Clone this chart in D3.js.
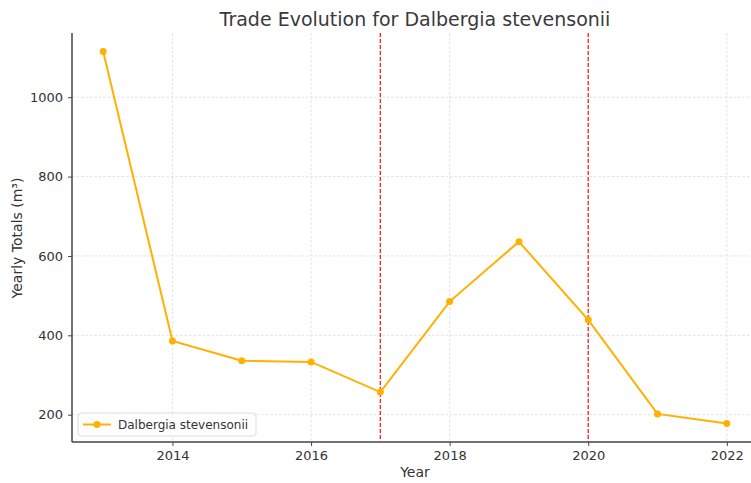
<!DOCTYPE html>
<html>
<head>
<meta charset="utf-8">
<script src="https://cdn.jsdelivr.net/npm/d3@7"></script>
<style>
  body { margin: 0; background: #fff; }
  svg { font-family: "DejaVu Sans", sans-serif; }
</style>
</head>
<body>
<svg id="chart" width="751" height="483"></svg>
<script>
var years = [2013, 2014, 2015, 2016, 2017, 2018, 2019, 2020, 2021, 2022];
var totals = [1115, 386, 336, 333, 257, 485, 636, 439, 202, 178];
var markerYears = [2017, 2020];
var xTicks = [2014, 2016, 2018, 2020, 2022];
var yTicks = [200, 400, 600, 800, 1000];
var seriesName = "Dalbergia stevensonii";

var svg = d3.select("#chart");
var margin = { left: 72, top: 33, right: 758, bottom: 442 };

var x = d3.scaleLinear().domain([2012.55, 2022.45]).range([margin.left, margin.right]);
var y = d3.scaleLinear().domain([131.2, 1161.8]).range([margin.bottom, margin.top]);

var color = "#FFB000";

// grid
var grid = svg.append("g");
grid.selectAll("line.gx").data(xTicks).enter().append("line")
    .attr("x1", function (d) { return x(d); })
    .attr("x2", function (d) { return x(d); })
    .attr("y1", margin.top).attr("y2", margin.bottom)
    .attr("stroke", "#d9d9d9").attr("stroke-width", 0.8).attr("stroke-dasharray", "2.5,2");
grid.selectAll("line.gy").data(yTicks).enter().append("line")
    .attr("y1", function (d) { return y(d); })
    .attr("y2", function (d) { return y(d); })
    .attr("x1", margin.left).attr("x2", margin.right)
    .attr("stroke", "#d9d9d9").attr("stroke-width", 0.8).attr("stroke-dasharray", "2.5,2");

// axes
var xAxis = svg.append("g")
    .attr("transform", "translate(0," + margin.bottom + ")")
    .call(d3.axisBottom(x).tickValues(xTicks).tickFormat(d3.format("d")).tickSize(4).tickPadding(5));
var yAxis = svg.append("g")
    .attr("transform", "translate(" + margin.left + ",0)")
    .call(d3.axisLeft(y).tickValues(yTicks).tickFormat(d3.format("d")).tickSize(4).tickPadding(5));

[xAxis, yAxis].forEach(function (a) {
    a.selectAll("text").attr("font-size", 13).attr("fill", "#333").attr("font-family", "DejaVu Sans");
    a.selectAll(".tick line").attr("stroke", "#444");
    a.select(".domain").attr("stroke", "#444").attr("stroke-width", 1.5);
});
xAxis.select(".domain").attr("d", "M" + margin.left + ",0H" + margin.right);
yAxis.select(".domain").attr("d", "M0," + margin.top + "V" + margin.bottom);

// red dashed markers
svg.selectAll("line.vm").data(markerYears).enter().append("line")
    .attr("x1", function (d) { return x(d); })
    .attr("x2", function (d) { return x(d); })
    .attr("y1", margin.top).attr("y2", margin.bottom)
    .attr("stroke", "#ff2020").attr("stroke-width", 1.3).attr("stroke-dasharray", "4,2");

// line series
var data = years.map(function (yr, i) { return { year: yr, value: totals[i] }; });
var line = d3.line().x(function (d) { return x(d.year); }).y(function (d) { return y(d.value); });
svg.append("path").datum(data)
    .attr("d", line).attr("fill", "none").attr("stroke", color).attr("stroke-width", 2);
svg.selectAll("circle.pt").data(data).enter().append("circle")
    .attr("cx", function (d) { return x(d.year); })
    .attr("cy", function (d) { return y(d.value); })
    .attr("r", 3.5).attr("fill", color);

// title & labels
svg.append("text").attr("x", 415).attr("y", 26).attr("text-anchor", "middle")
    .attr("font-size", 19).attr("fill", "#3a3a3a").text("Trade Evolution for " + seriesName);
svg.append("text").attr("x", 415).attr("y", 477).attr("text-anchor", "middle")
    .attr("font-size", 14).attr("fill", "#333").text("Year");
svg.append("text").attr("transform", "translate(22,238) rotate(-90)").attr("text-anchor", "middle")
    .attr("font-size", 14).attr("fill", "#333").text("Yearly Totals (m³)");

// legend
var lg = svg.append("g").attr("transform", "translate(78,413)");
lg.append("rect").attr("width", 178).attr("height", 23).attr("rx", 3)
    .attr("fill", "#fff").attr("fill-opacity", 0.8).attr("stroke", "#ddd");
lg.append("line").attr("x1", 5).attr("x2", 33).attr("y1", 11.5).attr("y2", 11.5)
    .attr("stroke", color).attr("stroke-width", 2);
lg.append("circle").attr("cx", 19).attr("cy", 11.5).attr("r", 3.5).attr("fill", color);
lg.append("text").attr("x", 40).attr("y", 16).attr("font-size", 12).attr("fill", "#333").text(seriesName);
</script>
</body>
</html>
